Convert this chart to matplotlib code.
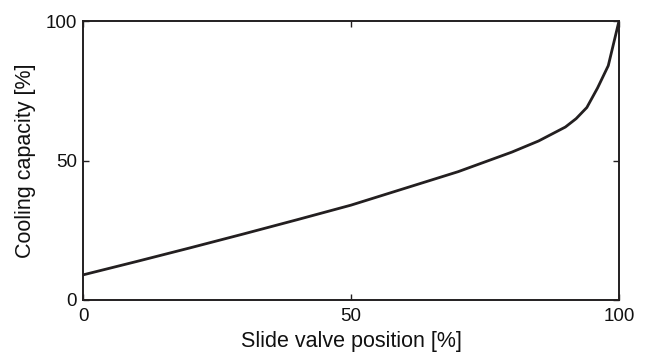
import matplotlib
matplotlib.use("Agg")
import matplotlib.pyplot as plt

plt.rcParams['font.family'] = ['Liberation Sans', 'DejaVu Sans']

slide_valve = [0, 10, 20, 30, 40, 50, 60, 70, 80, 85, 90, 92, 94, 96, 98, 100]
capacity = [9, 13.8, 18.7, 23.7, 28.8, 34, 40, 46, 53, 57, 62, 65, 69, 76, 84, 100]
x_ticks = [0, 50, 100]
y_ticks = [0, 50, 100]

dark = '#231f20'
fig = plt.figure(figsize=(6.46, 3.53), dpi=100)
ax = fig.add_axes([83/646, 1-300/353, (619-83)/646, (300-21)/353])
ax.plot(slide_valve, capacity, color=dark, lw=2.0)
ax.set_xlim(0, 100)
ax.set_ylim(0, 100)
ax.set_xticks(x_ticks)
ax.set_yticks(y_ticks)
ax.tick_params(direction='in', top=True, right=True, length=4.5, width=1, color=dark,
               labelsize=13.5, labelcolor='#111111')
ax.tick_params(axis='x', pad=5.5)
ax.tick_params(axis='y', pad=4.5)
for s in ax.spines.values():
    s.set_linewidth(1.4)
    s.set_color(dark)
ax.set_xlabel('Slide valve position [%]', fontsize=15.5, color='#111111', labelpad=4.5)
ax.set_ylabel('Cooling capacity [%]', fontsize=15.5, color='#111111', labelpad=6.5)
fig.savefig('out.png', dpi=100)
